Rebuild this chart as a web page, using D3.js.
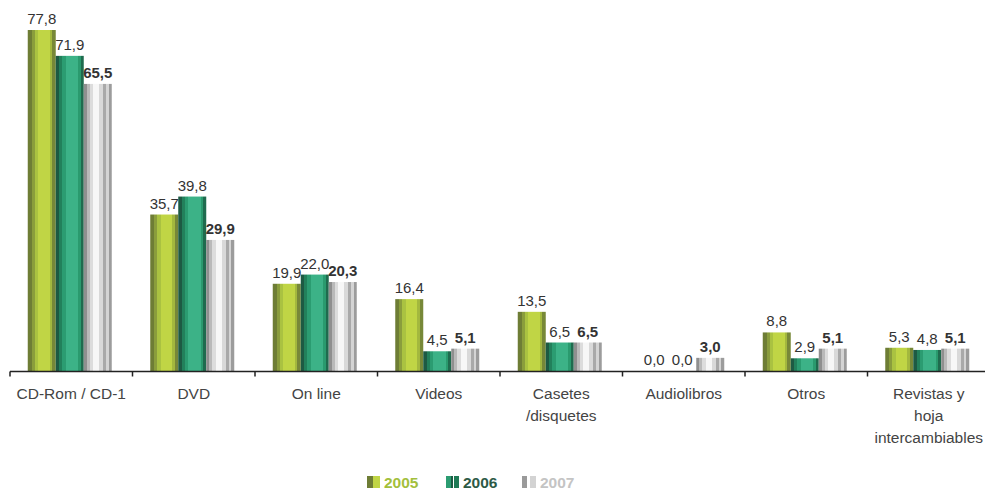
<!DOCTYPE html>
<html><head><meta charset="utf-8">
<script src="https://cdn.jsdelivr.net/npm/d3@7/dist/d3.min.js"></script>
<style>body{margin:0;background:#fff}svg{display:block}</style>
</head><body><svg id="c" width="985" height="490"></svg>
<script>
const categories = ["CD-Rom / CD-1","DVD","On line","Videos","Casetes\n/disquetes","Audiolibros","Otros","Revistas y\nhoja\nintercambiables"];
const years = ["2005","2006","2007"];
const v2005 = [77.8,35.7,19.9,16.4,13.5,0.0,8.8,5.3];
const v2006 = [71.9,39.8,22.0,4.5,6.5,0.0,2.9,4.8];
const v2007 = [65.5,29.9,20.3,5.1,6.5,3.0,5.1,5.1];
const series = [v2005,v2006,v2007];

const svg = d3.select("#c");
const font = "'Liberation Sans', Arial, sans-serif";
const defs = svg.append("defs");
const stripes = [
  [[0,"#6e7d35"],[.14,"#8a9d3c"],[.25,"#aac241"],[.38,"#c0d545"],[.78,"#a3b83e"],[.88,"#778838"]],
  [[0,"#1d5a43"],[.12,"#22805b"],[.24,"#2b9c71"],[.36,"#3cb287"],[.8,"#2a9a6e"],[.9,"#1f6b4e"]],
  [[0,"#8f8f8f"],[.1,"#b9b9b9"],[.22,"#dcdcdc"],[.34,"#f7f7f7"],[.55,"#d9d9d9"],[.7,"#a9a9a9"],[.8,"#d4d4d4"],[.9,"#9c9c9c"]]
];
stripes.forEach((st,i)=>{
  const g = defs.append("linearGradient").attr("id","g"+i).attr("x1",0).attr("x2",1).attr("y1",0).attr("y2",0);
  st.forEach((s,j)=>{
    const end = j+1<st.length ? st[j+1][0] : 1;
    g.append("stop").attr("offset",s[0]).attr("stop-color",s[1]);
    g.append("stop").attr("offset",end).attr("stop-color",s[1]);
  });
});

const x = d3.scaleBand().domain(categories).range([10,990]).padding(0);
const groupW = 84;
const groupShift = -1.5;
const xi = d3.scaleBand().domain(years).range([0,groupW]).padding(0);
const y = d3.scaleLinear().domain([0,77.8]).range([371,30]);
const gx = c => x(c)+x.bandwidth()/2-groupW/2+groupShift;

// bars
series.forEach((vals,si)=>{
  const gr = svg.append("g");
  gr.selectAll("rect").data(vals).join("rect")
    .attr("x",(d,i)=>gx(categories[i])+xi(years[si]))
    .attr("y",d=>y(d))
    .attr("width",xi.bandwidth())
    .attr("height",d=>y(0)-y(d))
    .attr("fill","url(#g"+si+")");
  gr.selectAll("text").data(vals).join("text")
    .attr("x",(d,i)=>gx(categories[i])+xi(years[si])+xi.bandwidth()/2)
    .attr("y",d=>y(d)-6)
    .attr("text-anchor","middle")
    .attr("font-family",font).attr("font-size",15)
    .attr("font-weight",si===2?"bold":"normal")
    .attr("fill","#333")
    .text(d=>d3.format(".1f")(d).replace(".",","));
});

// axis
const axis = svg.append("g").attr("transform","translate(0,371.5)");
axis.append("line").attr("x1",10).attr("x2",990).attr("stroke","#222").attr("stroke-width",1.5);
const tickPos = categories.map(c=>x(c)).concat([x.range()[1]]);
axis.selectAll("line.t").data(tickPos).join("line").attr("class","t")
  .attr("x1",d=>d).attr("x2",d=>d).attr("y1",0).attr("y2",5)
  .attr("stroke","#222").attr("stroke-width",1.5);
const labs = svg.append("g");
categories.forEach(c=>{
  const t = labs.append("text").attr("x",x(c)+x.bandwidth()/2).attr("y",399)
    .attr("text-anchor","middle").attr("font-family",font).attr("font-size",15.5).attr("fill","#444");
  c.split("\n").forEach((line,k)=>{
    t.append("tspan").attr("x",x(c)+x.bandwidth()/2).attr("dy",k===0?0:22).text(line);
  });
});

// legend
const legend = [
  {label:"2005", sx:367, tx:384, color:"#a3bf3c", parts:[[0,6,"#6e7d35"],[6,7,"#c0d545"]]},
  {label:"2006", sx:446, tx:463, color:"#2d5a46", parts:[[0,5,"#2b9c71"],[5,2,"#1d5a43"],[8,5,"#1e7a55"]]},
  {label:"2007", sx:522, tx:540, color:"#c4c4c4", parts:[[0,5,"#9a9a9a"],[8,6,"#d3d3d3"]]}
];
const lg = svg.append("g");
legend.forEach((l,i)=>{
  l.parts.forEach(p=>lg.append("rect").attr("x",l.sx+p[0]).attr("y",476).attr("width",p[1]).attr("height",12).attr("fill",p[2]));
  lg.append("text").attr("x",l.tx).attr("y",488).attr("font-family",font).attr("font-size",15.5)
    .attr("font-weight","bold").attr("fill",l.color).text(l.label);
});
</script></body></html>
